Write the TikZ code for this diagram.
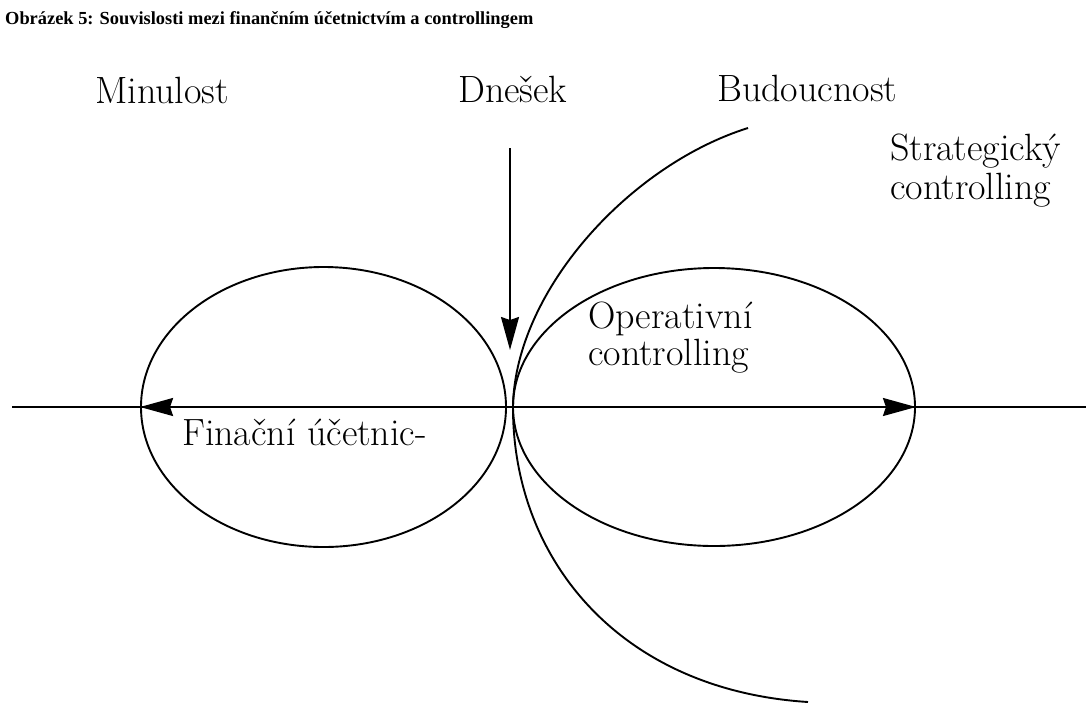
\documentclass[tikz,border=0pt]{standalone}
\usepackage{fontspec}
\newfontfamily\titlefont{Liberation Serif}
\usetikzlibrary{shapes.geometric,arrows.meta}
\begin{document}
\begin{tikzpicture}[x=1pt,y=-1pt,
  lbl/.style={anchor=base west,inner sep=0pt,font=\fontsize{38}{40}\selectfont},
  ring/.style={ellipse,draw,line width=1.9pt,inner sep=0pt},
  ln/.style={line width=1.9pt},
  tip/.style={line width=1.9pt,-{Stealth[length=33pt,width=18pt,inset=3pt]}}]
\useasboundingbox (0,0) rectangle (1086,702);
\node[anchor=base west,inner sep=0pt,font=\titlefont\bfseries\fontsize{18.4}{20}\selectfont] (title) at (5,24) {Obrázek 5: Souvislosti mezi finančním účetnictvím a controllingem};
% circles
\node[ring,minimum width=365pt,minimum height=280pt] (past) at (323.5,407) {};
\node[ring,minimum width=402pt,minimum height=278pt] (future) at (714,407) {};
% axis
\coordinate (axL) at (12,407);
\coordinate (axR) at (1086,407);
\draw[ln] (axL) -- (axR);
\coordinate (la) at (200,407);
\coordinate (ra) at (860,407);
\draw[tip] (la) -- (past.west);
\draw[tip] (ra) -- (future.east);
% today arrow
\coordinate (td0) at (510,148);
\coordinate (td1) at (510,350);
\draw[tip] (td0) -- (td1);
% strategic curves
\coordinate (s0) at (513,405);
\coordinate (s1) at (748,128);
\coordinate (s2) at (513,410);
\coordinate (s3) at (808,702);
\draw[ln] (s0) .. controls (516,290) and (630,165) .. (s1);
\draw[ln] (s2) .. controls (514,560) and (620,690) .. (s3);
% labels
\node[lbl] (minulost) at (95,103) {Minulost};
\node[lbl] (dnesek) at (458,102) {Dnešek};
\node[lbl] (budoucnost) at (717,101) {Budoucnost};
\node[lbl] (strat1) at (890,160) {Strategický};
\node[lbl] (strat2) at (890,199) {controlling};
\node[lbl] (oper1) at (588,328) {Operativní};
\node[lbl] (oper2) at (588,365) {controlling};
\node[lbl] (fin) at (182,445) {Finační účetnic-};
\end{tikzpicture}
\end{document}
